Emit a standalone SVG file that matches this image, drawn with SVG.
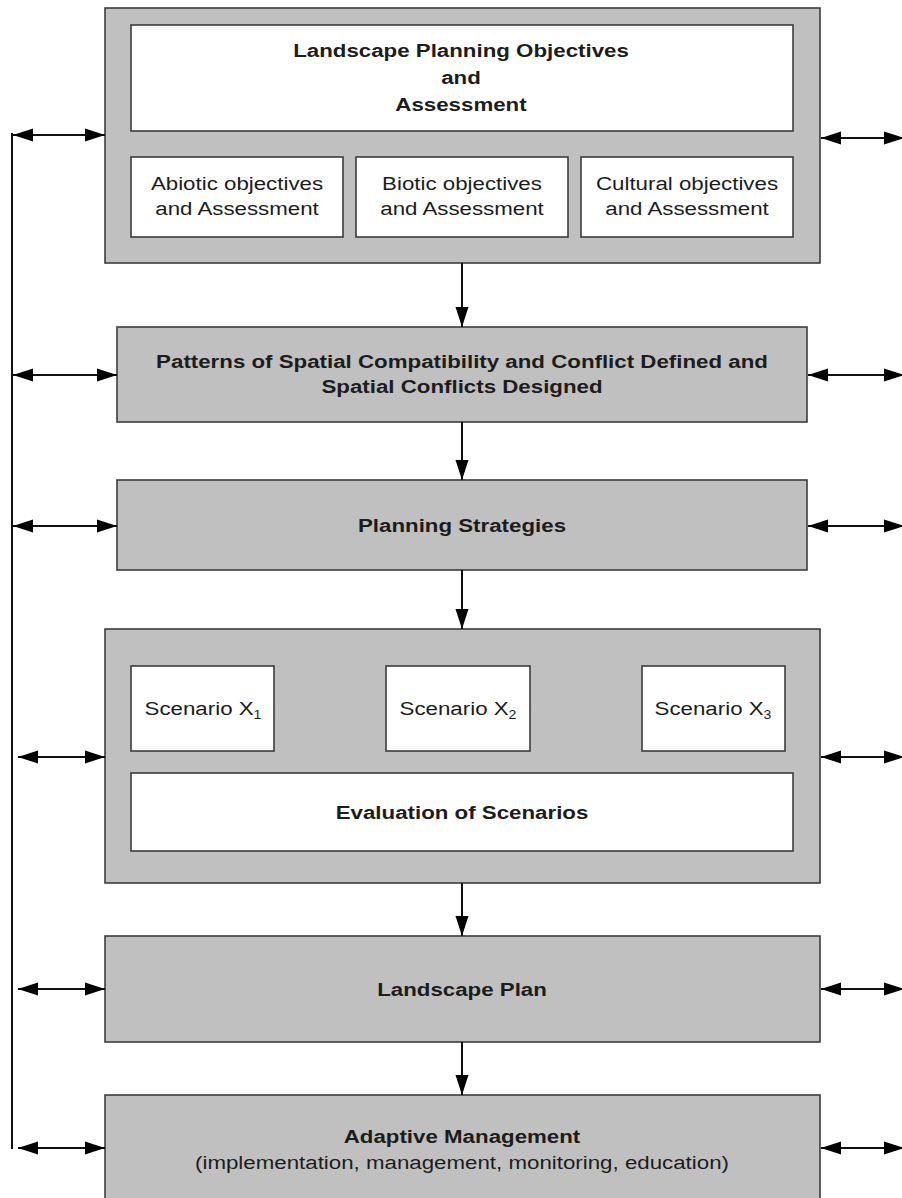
<svg xmlns="http://www.w3.org/2000/svg" width="902" height="1198" viewBox="0 0 902 1198">
  <style>
    .panel { fill: #c0c0c0; stroke: #3c3c3c; stroke-width: 1.6; }
    .card { fill: #ffffff; stroke: #3c3c3c; stroke-width: 1.6; }
    .t { font-family: "Liberation Sans", Arial, sans-serif; font-size: 19px; fill: #1c1c1c; text-anchor: middle; }
    .b { font-weight: bold; }
    .sub { font-size: 12px; }
    .link { stroke: #111111; stroke-width: 2; fill: none; }
    .flow { marker-end: url(#head); }
    .both { marker-start: url(#head); marker-end: url(#head); }
  </style>
  <defs>
    <marker id="head" markerUnits="userSpaceOnUse" markerWidth="20" markerHeight="14" refX="20" refY="7" orient="auto-start-reverse">
      <path d="M0,0.5 L20,7 L0,13.5 z" fill="#000000"/>
    </marker>
  </defs>

  <rect width="902" height="1198" fill="#ffffff"/>

  <!-- objectives and assessment -->
  <g id="objectives">
    <rect class="panel" x="105" y="8" width="715" height="255"/>
    <rect class="card" x="131" y="25" width="662" height="106"/>
    <text class="t b" transform="translate(461 57) scale(1.174 1)">Landscape Planning Objectives</text>
    <text class="t b" transform="translate(461 84) scale(1.174 1)">and</text>
    <text class="t b" transform="translate(461 111) scale(1.174 1)">Assessment</text>
  </g>
  <g id="abiotic">
    <rect class="card" x="131" y="157" width="212" height="80"/>
    <text class="t" transform="translate(237 190) scale(1.174 1)">Abiotic objectives</text>
    <text class="t" transform="translate(237 215) scale(1.174 1)">and Assessment</text>
  </g>
  <g id="biotic">
    <rect class="card" x="356" y="157" width="212" height="80"/>
    <text class="t" transform="translate(462 190) scale(1.174 1)">Biotic objectives</text>
    <text class="t" transform="translate(462 215) scale(1.174 1)">and Assessment</text>
  </g>
  <g id="cultural">
    <rect class="card" x="581" y="157" width="212" height="80"/>
    <text class="t" transform="translate(687 190) scale(1.174 1)">Cultural objectives</text>
    <text class="t" transform="translate(687 215) scale(1.174 1)">and Assessment</text>
  </g>

  <!-- spatial patterns -->
  <g id="patterns">
    <rect class="panel" x="117" y="327" width="690" height="95"/>
    <text class="t b" transform="translate(462 368) scale(1.174 1)">Patterns of Spatial Compatibility and Conflict Defined and</text>
    <text class="t b" transform="translate(462 393) scale(1.174 1)">Spatial Conflicts Designed</text>
  </g>

  <!-- strategies -->
  <g id="strategies">
    <rect class="panel" x="117" y="480" width="690" height="90"/>
    <text class="t b" transform="translate(462 532) scale(1.174 1)">Planning Strategies</text>
  </g>

  <!-- scenarios -->
  <g id="scenarios">
    <rect class="panel" x="105" y="629" width="715" height="254"/>
  </g>
  <g id="scenario-x1">
    <rect class="card" x="131" y="666" width="143" height="85"/>
    <text class="t" transform="translate(203 715) scale(1.174 1)">Scenario X<tspan class="sub" dy="4">1</tspan></text>
  </g>
  <g id="scenario-x2">
    <rect class="card" x="386" y="666" width="144" height="85"/>
    <text class="t" transform="translate(458 715) scale(1.174 1)">Scenario X<tspan class="sub" dy="4">2</tspan></text>
  </g>
  <g id="scenario-x3">
    <rect class="card" x="642" y="666" width="143" height="85"/>
    <text class="t" transform="translate(713 715) scale(1.174 1)">Scenario X<tspan class="sub" dy="4">3</tspan></text>
  </g>
  <g id="evaluation">
    <rect class="card" x="131" y="773" width="662" height="78"/>
    <text class="t b" transform="translate(462 819) scale(1.174 1)">Evaluation of Scenarios</text>
  </g>

  <!-- plan -->
  <g id="plan">
    <rect class="panel" x="105" y="936" width="715" height="106"/>
    <text class="t b" transform="translate(462 996) scale(1.174 1)">Landscape Plan</text>
  </g>

  <!-- adaptive management -->
  <g id="management">
    <rect class="panel" x="105" y="1095" width="715" height="130"/>
    <text class="t b" transform="translate(462 1143) scale(1.174 1)">Adaptive Management</text>
    <text class="t" transform="translate(462 1169) scale(1.174 1)">(implementation, management, monitoring, education)</text>
  </g>

  <g id="connectors">
    <!-- downward flow -->
    <line class="link flow" x1="462" y1="263" x2="462" y2="327"/>
    <line class="link flow" x1="462" y1="422" x2="462" y2="480"/>
    <line class="link flow" x1="462" y1="570" x2="462" y2="629"/>
    <line class="link flow" x1="462" y1="883" x2="462" y2="936"/>
    <line class="link flow" x1="462" y1="1042" x2="462" y2="1095"/>

    <!-- feedback spine -->
    <line class="link" x1="12" y1="133" x2="12" y2="1149"/>

    <!-- left exchanges -->
    <line class="link both" x1="13" y1="135" x2="105" y2="135"/>
    <line class="link both" x1="13" y1="375" x2="117" y2="375"/>
    <line class="link both" x1="13" y1="526" x2="117" y2="526"/>
    <line class="link both" x1="18" y1="757" x2="105" y2="757"/>
    <line class="link both" x1="18" y1="989" x2="105" y2="989"/>
    <line class="link both" x1="18" y1="1148" x2="105" y2="1148"/>

    <!-- right exchanges -->
    <line class="link both" x1="821" y1="138" x2="904" y2="138"/>
    <line class="link both" x1="808" y1="375" x2="904" y2="375"/>
    <line class="link both" x1="808" y1="526" x2="904" y2="526"/>
    <line class="link both" x1="821" y1="757" x2="904" y2="757"/>
    <line class="link both" x1="821" y1="989" x2="904" y2="989"/>
    <line class="link both" x1="821" y1="1148" x2="904" y2="1148"/>
  </g>
</svg>
